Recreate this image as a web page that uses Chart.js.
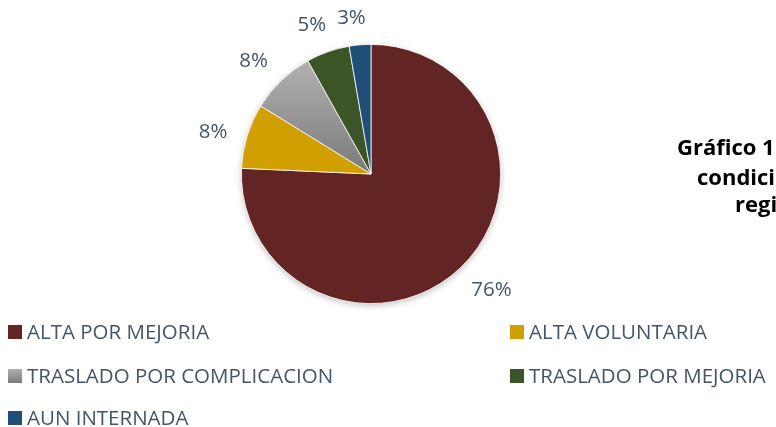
<!DOCTYPE html>
<html>
<head>
<meta charset="utf-8">
<script src="https://cdn.jsdelivr.net/npm/chart.js@4/dist/chart.umd.min.js"></script>
<style>
  html, body { margin: 0; padding: 0; background: #fff; overflow: hidden; }
  #wrap { position: relative; width: 776px; height: 427px; overflow: hidden; }
  #pieChart { position: absolute; left: 0; top: 0; }
  .title { position: absolute; font-family: "Open Sans", sans-serif; font-weight: bold; font-size: 22px; color: #000; white-space: nowrap; line-height: 1; }
  .legend-item { position: absolute; font-family: "Open Sans", sans-serif; font-size: 20.5px; color: #44546a; white-space: nowrap; line-height: 1; padding-left: 19px; }
  .legend-item span.box { position: absolute; left: 0; top: 4px; width: 14px; height: 14px; }
</style>
</head>
<body>
<div id="wrap">
  <canvas id="pieChart" width="776" height="427"></canvas>
  <div class="title" style="left:677px; top:135px;">Gráfico 1. Pacientes según</div>
  <div class="title" style="left:697px; top:165px;">condición de egreso,</div>
  <div class="title" style="left:735px; top:192px;">región</div>
  <div id="legend"></div>
</div>
<script>
// categories and values (share of patients, %)
const categories = ['ALTA POR MEJORIA', 'ALTA VOLUNTARIA', 'TRASLADO POR COMPLICACION', 'TRASLADO POR MEJORIA', 'AUN INTERNADA'];
const percentages = [75.7, 8.1, 8.1, 5.4, 2.7];
const sliceColors = ['#632523', '#d29f00', 'gray-gradient', '#3b5526', '#1f4e79'];

// legend layout: two columns, three rows
const legendCols = [8, 510];
const legendRows = [321, 365, 407];

const canvas = document.getElementById('pieChart');
const ctx = canvas.getContext('2d');

function grayGradient(top, bottom) {
  const g = ctx.createLinearGradient(0, top, 0, bottom);
  g.addColorStop(0, '#b0b0b0');
  g.addColorStop(1, '#7a7a7a');
  return g;
}

// draws the percentage labels outside each slice
const outsideLabels = {
  id: 'outsideLabels',
  afterDatasetsDraw(chart) {
    const c = chart.ctx;
    const meta = chart.getDatasetMeta(0);
    c.save();
    c.font = '20.5px "Open Sans", sans-serif';
    c.fillStyle = '#44546a';
    c.textAlign = 'center';
    c.textBaseline = 'middle';
    meta.data.forEach((arc, i) => {
      const text = Math.round(percentages[i]) + '%';
      const w = c.measureText(text).width;
      const mid = (arc.startAngle + arc.endAngle) / 2 - 0.04;
      const dx = Math.cos(mid), dy = Math.sin(mid);
      // keep a gap between the arc and the nearest side of the text box
      const r = arc.outerRadius + 18 + Math.abs(dx) * w / 2 + Math.abs(dy) * 7.5;
      c.fillText(text, arc.x + dx * r, arc.y + dy * r);
    });
    c.restore();
  }
};

// soft shadow behind the pie
const pieShadow = {
  id: 'pieShadow',
  beforeDatasetsDraw(chart) {
    const arc = chart.getDatasetMeta(0).data[0];
    const c = chart.ctx;
    c.save();
    c.shadowColor = 'rgba(0,0,0,0.25)';
    c.shadowBlur = 6;
    c.shadowOffsetY = 2;
    c.beginPath();
    c.arc(arc.x, arc.y, arc.outerRadius, 0, Math.PI * 2);
    c.fillStyle = '#fff';
    c.fill();
    c.restore();
  }
};

const chart = new Chart(ctx, {
  type: 'pie',
  data: {
    labels: categories,
    datasets: [{
      data: percentages,
      backgroundColor: function (context) {
        const col = sliceColors[context.dataIndex];
        if (col === 'gray-gradient') {
          const area = context.chart.chartArea;
          if (!area) return '#999';
          return grayGradient(area.top + 20, area.top + (area.bottom - area.top) / 2);
        }
        return col;
      },
      borderColor: '#ffffff',
      borderWidth: 0.8,
    }],
  },
  options: {
    responsive: false,
    animation: false,
    layout: {
      padding: { left: 241, right: 275, top: 44, bottom: 123 },
    },
    plugins: {
      legend: { display: false },
      tooltip: { enabled: false },
    },
  },
  plugins: [pieShadow, outsideLabels],
});

// html legend built from the same arrays
const legendEl = document.getElementById('legend');
categories.forEach((name, i) => {
  const item = document.createElement('div');
  item.className = 'legend-item';
  item.style.left = legendCols[i % 2] + 'px';
  item.style.top = legendRows[Math.floor(i / 2)] + 'px';
  const box = document.createElement('span');
  box.className = 'box';
  box.style.background = sliceColors[i] === 'gray-gradient'
    ? 'linear-gradient(#b0b0b0, #7a7a7a)' : sliceColors[i];
  item.appendChild(box);
  item.appendChild(document.createTextNode(name));
  legendEl.appendChild(item);
});
</script>
</body>
</html>
